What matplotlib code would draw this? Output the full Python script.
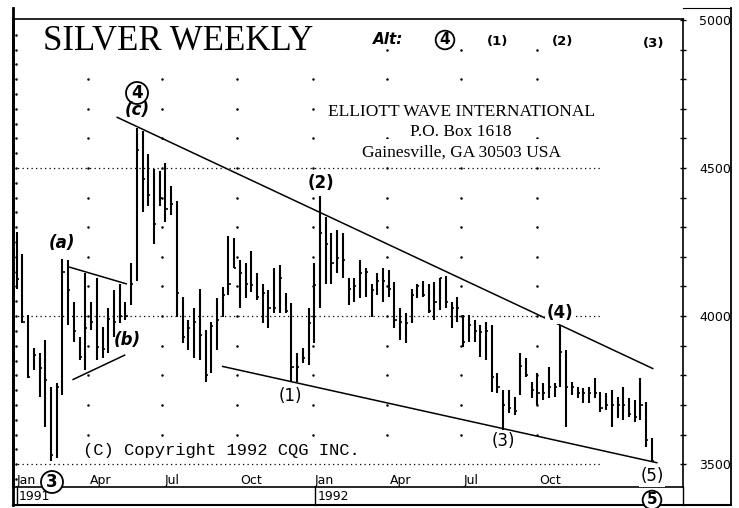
import matplotlib
matplotlib.use('Agg')
import matplotlib.pyplot as plt
from matplotlib.lines import Line2D
import pandas as pd

# weekly silver bars (price in 1/10 cent, as on the axis)
first_week = '1991-01-04'
highs = [4283, 4210, 4002, 3891, 3874, 3918, 3760, 3773, 4194, 4188,
         4046, 3928, 4144, 4046, 4130, 3962, 4026, 4087, 4110, 4046,
         4178, 4636, 4626, 4548, 4498, 4491, 4518, 4440, 4390, 4063,
         3986, 4026, 4093, 3952, 3979, 4060, 4097, 4272, 4262, 4188,
         4178, 4221, 4144, 4110, 4087, 4164, 4171, 4077, 4043, 3874,
         3891, 4029, 4178, 4407, 4333, 4279, 4289, 4282, 4130, 4127,
         4188, 4164, 4110, 4147, 4164, 4154, 4114, 4026, 4009, 4093,
         4110, 4120, 4110, 4114, 4130, 4137, 4046, 4063, 4002, 4002,
         3986, 3969, 3979, 3969, 3807, 3750, 3750, 3726, 3874, 3857,
         3777, 3807, 3773, 3827, 3773, 3969, 3884, 3777, 3760, 3756,
         3760, 3790, 3743, 3740, 3750, 3726, 3760, 3723, 3716, 3790,
         3709, 3588]
lows = [4093, 3975, 3790, 3817, 3726, 3625, 3510, 3520, 3733, 3969,
        3911, 3851, 3817, 3952, 3851, 3857, 3874, 3928, 3976, 3986,
        4036, 4120, 4350, 4373, 4245, 4373, 4316, 4340, 3996, 3908,
        3884, 3857, 3851, 3777, 3807, 3884, 3996, 4070, 4164, 4029,
        4060, 4080, 4053, 3976, 3959, 4009, 4012, 4012, 3777, 3777,
        3841, 3834, 3908, 4026, 4110, 4110, 4144, 4127, 4036, 4046,
        4060, 4063, 3996, 4070, 4046, 4063, 3959, 3918, 3908, 3976,
        4060, 4063, 4012, 3986, 4019, 4029, 3959, 3979, 3894, 3911,
        3911, 3861, 3851, 3743, 3740, 3615, 3672, 3665, 3733, 3793,
        3723, 3699, 3716, 3723, 3726, 3760, 3625, 3733, 3723, 3706,
        3706, 3723, 3676, 3682, 3625, 3655, 3648, 3660, 3641, 3648,
        3557, 3507]
closes = [4124, 3980, 3795, 3868, 3824, 3783, 3530, 3760, 4150, 4087,
          3950, 3862, 3959, 3980, 3895, 3890, 3990, 3980, 4000, 4000,
          4110, 4560, 4464, 4410, 4312, 4400, 4360, 4380, 4077, 3928,
          3960, 3980, 3935, 3800, 3965, 3986, 4070, 4110, 4164, 4144,
          4110, 4104, 4063, 4077, 4026, 4026, 4130, 4016, 3827, 3827,
          3858, 3976, 4104, 4279, 4245, 4178, 4195, 4188, 4090, 4100,
          4144, 4150, 4087, 4120, 4120, 4090, 3986, 3980, 3976, 4070,
          4100, 4070, 4016, 4046, 4127, 4046, 4029, 4026, 3911, 3969,
          3950, 3945, 3950, 3793, 3760, 3700, 3690, 3680, 3830, 3800,
          3750, 3740, 3740, 3760, 3760, 3880, 3760, 3760, 3740, 3740,
          3740, 3740, 3690, 3700, 3700, 3700, 3700, 3670, 3660, 3700,
          3580, 3510]

price_labels = [3500, 4000, 4500, 5000]
quarters = ['1991-01-01', '1991-04-01', '1991-07-01', '1991-10-01',
            '1992-01-01', '1992-04-01', '1992-07-01', '1992-10-01']
quarter_names = ['Jan', 'Apr', 'Jul', 'Oct', 'Jan', 'Apr', 'Jul', 'Oct']

# trend lines (date, price) pairs
upper_line = (['1991-05-07', '1993-02-20'], [4671, 3823])
lower_line = (['1991-09-13', '1993-02-25'], [3830, 3505])
tri_top = (['1991-03-10', '1991-05-18'], [4165, 4109])
tri_bot = (['1991-03-14', '1991-05-16'], [3786, 3868])

W, H = 739, 508
fig = plt.figure(figsize=(W / 100, H / 100), dpi=100)


def fx(x):
    return x / W


def fy(y):
    return 1 - y / H


def fline(xs, ys, lw=1.2):
    fig.add_artist(Line2D([fx(v) for v in xs], [fy(v) for v in ys],
                          transform=fig.transFigure, color='black', lw=lw))


ax = fig.add_axes([fx(13), fy(487), fx(683) - fx(13), fy(19) - fy(487)])

dates = pd.date_range(first_week, periods=len(highs), freq='7D')
ax.vlines(dates, lows, highs, color='black', lw=1.5)
ax.hlines(closes, dates, dates + pd.Timedelta(days=2.6), color='black', lw=1.2)

left = pd.Timestamp('1990-12-30 12:00')
right = pd.Timestamp('1993-03-29')
ax.set_xlim(left, right)
ax.set_ylim(3423, 5003)

# dotted grid
ax.hlines([3500, 4000, 4500], left, pd.Timestamp('1992-12-18'),
          colors='black', linestyles=(0, (1, 2.6)), lw=0.9)
dot_levels = list(range(3600, 5000, 100))
for q in quarters[1:]:
    ax.plot([pd.Timestamp(q)] * len(dot_levels), dot_levels, 'k.', ms=1.6)
edge_levels = list(range(3450, 5000, 50))
ax.plot([pd.Timestamp('1991-01-03')] * len(edge_levels), edge_levels, 'k.', ms=1.6)

for xs, ys in [upper_line, lower_line, tri_top, tri_bot]:
    ax.plot(pd.to_datetime(xs), ys, color='black', lw=1.1)

for q, name in zip(quarters, quarter_names):
    ax.text(pd.Timestamp(q) + pd.Timedelta(days=3), 3446, name,
            fontsize=9, va='center', ha='left', family='DejaVu Sans')

ax.yaxis.tick_right()
ax.set_yticks(price_labels)
ax.set_yticks(range(3500, 5001, 100), minor=True)
ax.tick_params(axis='y', which='both', direction='inout', length=5, width=1, pad=9,
               labelsize=9)
ax.tick_params(axis='y', which='minor', length=4)
ax.set_xticks([])
for s in ['top', 'right', 'bottom']:
    ax.spines[s].set_linewidth(1.2)
ax.spines['left'].set_linewidth(2)

# frame and year strip
fline([13, 13], [8, 505], lw=2)
fline([731, 731], [8, 505], lw=1.3)
fline([683, 731], [8, 8], lw=0.8)
fline([13, 731], [505, 505], lw=1.5)
fline([683, 683], [487, 505], lw=1.0)
fline([16.5, 16.5], [487, 505], lw=1.0)
fline([315, 315], [487, 505], lw=1.0)
fig.text(fx(19), fy(497), '1991', fontsize=9, va='center', ha='left')
fig.text(fx(318), fy(497), '1992', fontsize=9, va='center', ha='left')

white = dict(boxstyle='square,pad=0.1', fc='white', ec='none')

# headings
fig.text(fx(43), fy(42), 'SILVER WEEKLY', family='Liberation Serif', fontsize=25,
         va='center', ha='left', bbox=white)
for i, line in enumerate(['ELLIOTT WAVE INTERNATIONAL', 'P.O. Box 1618',
                          'Gainesville, GA 30503 USA']):
    fig.text(fx(461), fy([112, 132, 153][i]), line, family='Liberation Serif',
             fontsize=12.5, va='center', ha='center',
             bbox=dict(boxstyle='square,pad=0.35', fc='white', ec='none'))
fig.text(fx(83), fy(451), '(C) Copyright 1992 CQG INC.', family='Liberation Mono',
         fontsize=12.3, va='center', ha='left')
fig.text(fx(373), fy(40), 'Alt:', fontsize=11, fontweight='bold', style='italic',
         va='center', ha='left')

circ = dict(boxstyle='circle,pad=0.12', fc='white', ec='black', lw=1.3)
for x, y, t, fs in [(445, 40, '4', 11), (137, 93, '4', 12), (52, 482, '3', 12),
                    (652, 500, '5', 11)]:
    fig.text(fx(x), fy(y), t, fontsize=fs, fontweight='bold', ha='center',
             va='center', bbox=circ)

for x, y, t in [(498, 41, '(1)'), (563, 41, '(2)'), (654, 43, '(3)')]:
    fig.text(fx(x), fy(y), t, fontsize=9.5, fontweight='bold', ha='center', va='center')

for x, y, t in [(62, 243, '(a)'), (127, 340, '(b)'), (137, 110, '(c)')]:
    fig.text(fx(x), fy(y), t, fontsize=12, fontweight='bold', style='italic',
             ha='center', va='center')

for x, y, t, w, bg in [(321, 183, '(2)', 'bold', False), (290, 396, '(1)', 'normal', False),
                       (503, 441, '(3)', 'normal', False), (560, 313, '(4)', 'bold', True),
                       (652, 476, '(5)', 'normal', True)]:
    fig.text(fx(x), fy(y), t, fontsize=12, fontweight=w, ha='center', va='center',
             bbox=white if bg else None)

fig.savefig('out.png', dpi=100)
